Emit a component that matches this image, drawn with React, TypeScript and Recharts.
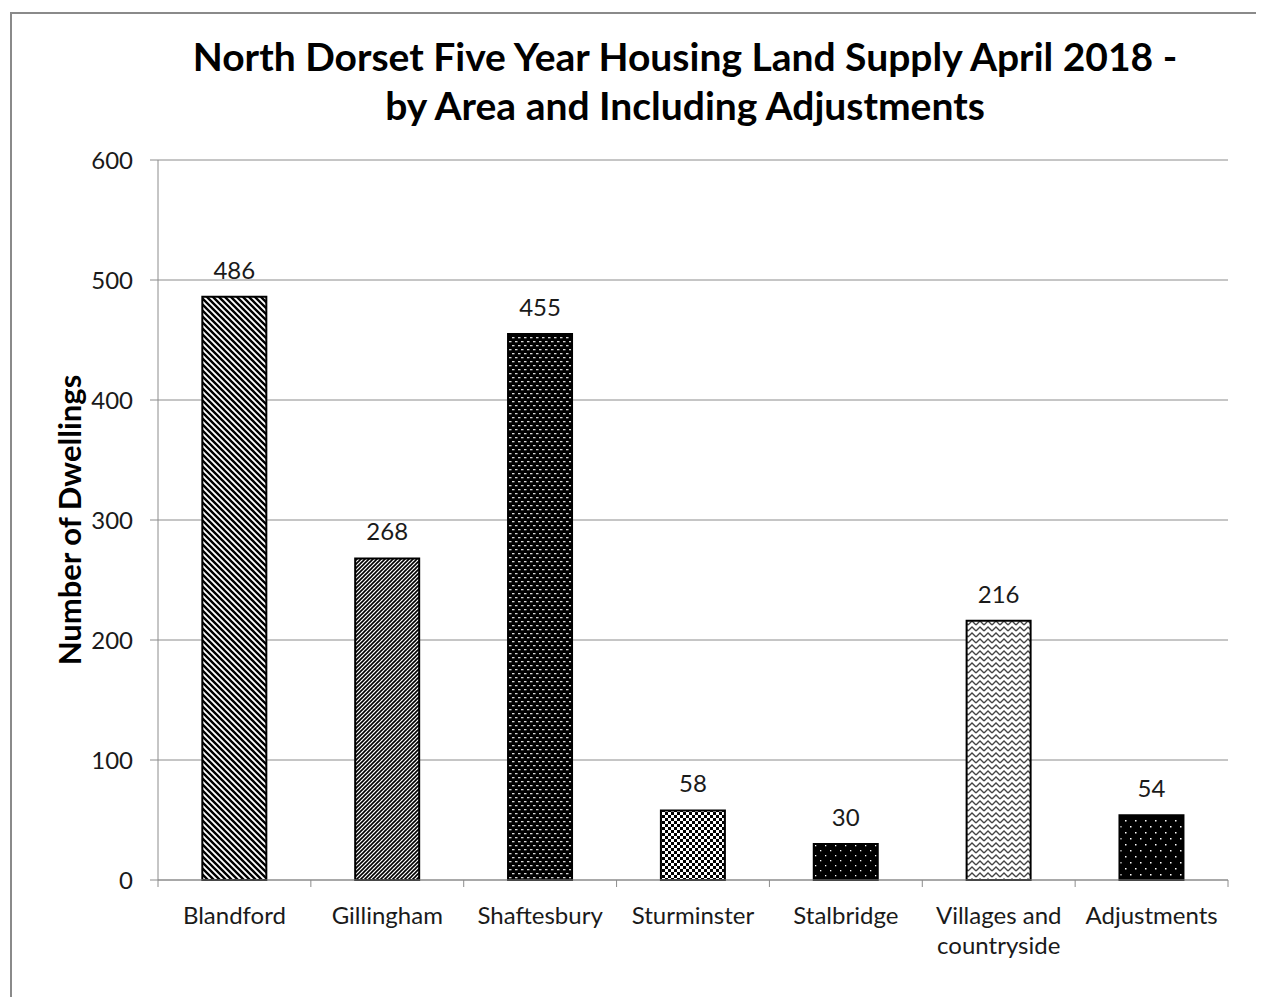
import React from 'react';
import { BarChart, Bar, XAxis, YAxis, CartesianGrid, Cell, LabelList, Text } from 'recharts';

const areas = [
  'Blandford',
  'Gillingham',
  'Shaftesbury',
  'Sturminster',
  'Stalbridge',
  'Villages and countryside',
  'Adjustments',
];
const dwellings = [486, 268, 455, 58, 30, 216, 54];
const yTicks = [0, 100, 200, 300, 400, 500, 600];
const titleLines = [
  'North Dorset Five Year Housing Land Supply April 2018 -',
  'by Area and Including Adjustments',
];

// fill pattern used for each bar, same order as areas
const barPatterns = ['wideDown', 'narrowUp', 'weave', 'checker', 'sparseDots', 'zigzag', 'dots'];

const data = areas.map((area, i) => ({ area, dwellings: dwellings[i] }));

const W = 1256;
const H = 989;
const margin = { top: 152, right: 36, left: 0, bottom: 57 };
const Y_AXIS_W = 150;
const X_AXIS_H = 60;
const band = (W - margin.left - Y_AXIS_W - margin.right) / areas.length;

const FONT = 'Lato, sans-serif';
const TEXT = '#1a1a1a';
const AXIS = '#8c8c8c';

function CategoryTick(props: any) {
  const { x, y, payload, index } = props;
  const left = x - band / 2;
  const right = x + band / 2;
  return (
    <g>
      <line x1={left} y1={y} x2={left} y2={y + 7} stroke={AXIS} />
      {index === areas.length - 1 && <line x1={right} y1={y} x2={right} y2={y + 7} stroke={AXIS} />}
      <Text
        x={x}
        y={y + 27}
        width={band - 10}
        textAnchor="middle"
        verticalAnchor="start"
        lineHeight={30}
        fontFamily={FONT}
        fontSize={24}
        fill={TEXT}
      >
        {payload.value}
      </Text>
    </g>
  );
}

function YTitle(props: any) {
  const { viewBox } = props;
  const cx = viewBox.x + 61;
  const cy = viewBox.y + viewBox.height / 2;
  return (
    <text
      transform={`translate(${cx},${cy}) rotate(-90)`}
      textAnchor="middle"
      dominantBaseline="central"
      fontFamily={FONT}
      fontWeight="bold"
      fontSize={31}
      fill="#000"
    >
      Number of Dwellings
    </text>
  );
}

export default function App() {
  return (
    <div style={{ position: 'relative', width: W, height: H, overflow: 'hidden', background: '#fff' }}>
      <div
        style={{
          position: 'absolute',
          left: 2,
          top: 4,
          width: 2000,
          height: 2000,
          border: '2px solid #8a8a8a',
        }}
      />
      <div
        style={{
          position: 'absolute',
          left: 77,
          top: 24,
          width: 1200,
          textAlign: 'center',
          fontFamily: FONT,
          fontWeight: 'bold',
          fontSize: 39,
          lineHeight: '49px',
          color: '#000',
        }}
      >
        {titleLines.map((t) => (
          <div key={t}>{t}</div>
        ))}
      </div>
      <div style={{ position: 'absolute', left: 0, top: 0 }}>
        <BarChart width={W} height={H} data={data} margin={margin} barCategoryGap="29%">
          <defs>
            <pattern id="wideDown" width="6" height="6" patternUnits="userSpaceOnUse">
              <rect width="6" height="6" fill="#fff" />
              <path d="M-1,-1 L7,7 M-1,5 L1,7 M5,-1 L7,1" stroke="#000" strokeWidth="2.4" />
            </pattern>
            <pattern id="narrowUp" width="4" height="4" patternUnits="userSpaceOnUse">
              <rect width="4" height="4" fill="#fff" />
              <path d="M-1,5 L5,-1 M-1,1 L1,-1 M3,5 L5,3" stroke="#000" strokeWidth="1.6" />
            </pattern>
            <pattern id="weave" width="6" height="8" patternUnits="userSpaceOnUse">
              <rect width="6" height="8" fill="#000" />
              <rect x="0" y="1" width="2.5" height="1.3" fill="#d8d8d8" />
              <rect x="3" y="5" width="2.5" height="1.3" fill="#d8d8d8" />
            </pattern>
            <pattern id="checker" width="6" height="6" patternUnits="userSpaceOnUse">
              <rect width="6" height="6" fill="#000" />
              <rect x="0" y="0" width="3" height="3" fill="#fff" />
              <rect x="3" y="3" width="3" height="3" fill="#fff" />
            </pattern>
            <pattern id="sparseDots" width="10" height="10" patternUnits="userSpaceOnUse">
              <rect width="10" height="10" fill="#000" />
              <rect x="2" y="2" width="1.3" height="1.3" fill="#fff" />
              <rect x="7" y="7" width="1.3" height="1.3" fill="#fff" />
            </pattern>
            <pattern id="zigzag" width="8" height="6" patternUnits="userSpaceOnUse">
              <rect width="8" height="6" fill="#fff" />
              <path d="M0,5 L4,1 L8,5" stroke="#444" strokeWidth="1.3" fill="none" />
            </pattern>
            <pattern id="dots" width="10" height="12" patternUnits="userSpaceOnUse">
              <rect width="10" height="12" fill="#000" />
              <rect x="2" y="2" width="1.5" height="1.5" fill="#fff" />
              <rect x="7" y="8" width="1.5" height="1.5" fill="#fff" />
            </pattern>
          </defs>
          <CartesianGrid vertical={false} stroke={AXIS} />
          <XAxis
            dataKey="area"
            height={X_AXIS_H}
            interval={0}
            tickLine={false}
            tickSize={0}
            tickMargin={0}
            stroke={AXIS}
            tick={<CategoryTick />}
          />
          <YAxis
            width={Y_AXIS_W}
            domain={[0, 600]}
            ticks={yTicks}
            interval={0}
            tickSize={8}
            tickMargin={17}
            stroke={AXIS}
            tick={{ fill: TEXT, fontFamily: FONT, fontSize: 24 }}
            label={{ content: <YTitle /> }}
          />
          <Bar dataKey="dwellings" stroke="#000" strokeWidth={2} isAnimationActive={false}>
            {data.map((d, i) => (
              <Cell key={d.area} fill={`url(#${barPatterns[i]})`} />
            ))}
            <LabelList
              dataKey="dwellings"
              position="top"
              offset={18}
              fill={TEXT}
              fontFamily={FONT}
              fontSize={24}
            />
          </Bar>
        </BarChart>
      </div>
    </div>
  );
}
